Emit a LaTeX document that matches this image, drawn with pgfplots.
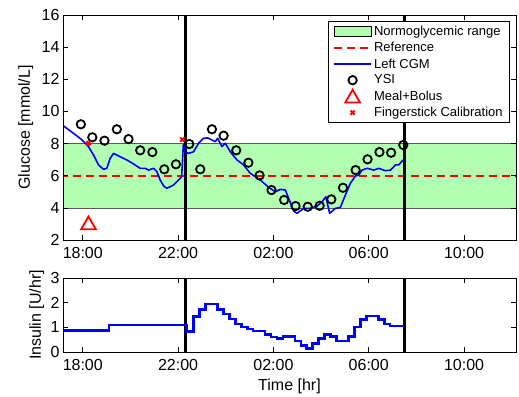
\documentclass[border=0pt]{standalone}
\usepackage{pgfplots}
\pgfplotsset{compat=1.18}
\usepackage{fontspec}
\setmainfont{Liberation Sans}
\definecolor{rangegreen}{rgb}{0.7,1,0.7}
\pgfplotsset{
  lineleg/.style={legend image code/.code={\draw[##1] (0pt,0pt) -- (37pt,0pt);}},
  markleg/.style={legend image code/.code={\draw[mark repeat=2,mark phase=2,##1] plot coordinates {(0pt,0pt) (18.5pt,0pt) (37pt,0pt)};}},
  triled/.style={legend image code/.code={\draw[mark repeat=2,mark phase=2,##1] plot coordinates {(0pt,-2pt) (18.5pt,-2pt) (37pt,-2pt)};}},
  areleg/.style={legend image code/.code={\draw[fill=rangegreen, draw=black, line width=0.6pt] (0pt,-5pt) rectangle (37pt,5pt);}},
}

\begin{document}
\begin{tikzpicture}[font=\fontsize{16}{19}\selectfont]
\path[use as bounding box] (0,0) rectangle (519pt,-396pt);
\pgfplotsset{
  common/.style={
    scale only axis, width=453pt,
    xmin=17.17, xmax=36.18,
    xtick={18,22,26,30,34},
    xticklabels={18:00,22:00,02:00,06:00,10:00},
    tick align=inside, major tick length=5pt,
    axis line style={line width=0.8pt},
    tick style={black, line width=0.6pt},
    /pgf/number format/assume math mode=true,
    tick label style={font=\fontsize{16}{19}\selectfont},
    xticklabel style={yshift=-4pt},
    label style={font=\fontsize{16}{19}\selectfont},
    axis on top,
  }
}
\begin{axis}[common,
  at={(63pt,-15pt)}, anchor=north west, height=225pt,
  ymin=2, ymax=16, ytick={2,4,...,16},
  ylabel={Glucose [mmol/L]},
  every axis y label/.style={at={(axis description cs:-0.082,0.5)}, rotate=90, anchor=center},
  legend style={at={(0.987,0.973)}, anchor=north east,
    font=\fontsize{13}{15}\selectfont, draw=black, line width=0.8pt,
    row sep=1.4pt, inner xsep=5pt, inner ysep=2.5pt},
  legend cell align=left,
]
\addplot[fill=rangegreen, draw=black!65, line width=0.6pt, areleg]
  coordinates {(16.5,4) (37,4) (37,8) (16.5,8) (16.5,4)};
\addlegendentry{Normoglycemic range}
\addplot[red, line width=2pt, dash pattern=on 8pt off 5pt, lineleg]
  coordinates {(16.5,6) (37,6)};
\addlegendentry{Reference}
\addplot[black, line width=3pt, forget plot] coordinates {(22.30,2) (22.30,16)};
\addplot[black, line width=3pt, forget plot] coordinates {(31.50,2) (31.50,16)};
\addplot[blue, line width=1.6pt, line join=round, lineleg]
  coordinates {
(17.17,9.12) (17.61,8.64) (17.95,8.25) (18.24,7.81) (18.45,7.29) (18.66,6.67)
(18.87,6.40) (19.01,6.46) (19.15,7.08) (19.29,7.39) (19.57,7.18) (19.85,6.98)
(20.13,6.73) (20.41,6.46) (20.62,6.46) (20.76,6.35) (20.97,6.46) (21.11,6.25)
(21.25,5.73) (21.40,5.35) (21.53,5.22) (21.81,5.42) (22.09,5.84) (22.15,5.95)
(22.22,7.95) (22.32,7.45) (22.44,7.39) (22.65,7.49) (22.86,8.02) (23.07,8.33)
(23.25,8.35) (23.35,8.27) (23.56,8.12) (23.66,8.33) (23.84,7.81) (23.98,8.02)
(24.19,7.49) (24.47,6.98) (24.75,6.67) (25.03,6.15) (25.45,5.73) (25.80,5.28)
(26.08,5.00) (26.29,5.15) (26.50,5.11) (26.64,4.59) (26.85,3.80) (26.99,3.66)
(27.27,3.97) (27.55,3.97) (27.83,4.11) (28.04,4.38) (28.20,4.69) (28.36,3.66)
(28.60,3.97) (28.81,4.03) (29.02,4.80) (29.23,5.53) (29.44,5.98) (29.58,6.04)
(29.72,6.35) (29.93,6.46) (30.21,6.35) (30.42,6.46) (30.70,6.31) (30.91,6.35)
(31.12,6.67) (31.26,6.67) (31.44,6.98)
};
\addlegendentry{Left CGM}
\addplot[only marks, mark=o, mark size=4.2pt, black, line width=1.8pt, markleg]
  coordinates {
(17.92,9.20) (18.40,8.39) (18.91,8.18) (19.43,8.89) (19.92,8.28) (20.41,7.58)
(20.92,7.47) (21.42,6.40) (21.91,6.71) (22.47,7.97) (22.93,6.40) (23.42,8.89)
(23.91,8.49) (24.44,7.58) (24.95,6.81) (25.42,6.02) (25.92,5.11) (26.45,4.49)
(26.93,4.11) (27.44,4.07) (27.94,4.13) (28.43,4.53) (28.92,5.25) (29.45,6.35)
(29.95,7.02) (30.45,7.47) (30.94,7.43) (31.45,7.91)
};
\addlegendentry{YSI}
\addplot[only marks, mark=triangle, mark size=8.5pt, red, line width=1.8pt, triled]
  coordinates {(18.24,2.93)};
\addlegendentry{Meal+Bolus}
\addplot[only marks, mark=x, mark size=3pt, red, line width=2pt, markleg]
  coordinates {(18.24,8.02) (22.18,8.25)};
\addlegendentry{Fingerstick Calibration}
\end{axis}

\begin{axis}[common,
  at={(63pt,-278pt)}, anchor=north west, height=74pt,
  ymin=0, ymax=3, ytick={0,1,2,3},
  ylabel={Insulin [U/hr]},
  every axis y label/.style={at={(axis description cs:-0.058,0.5)}, rotate=90, anchor=center},
  xlabel={Time [hr]},
  every axis x label/.style={at={(axis description cs:0.5,-0.523)}, anchor=base},
]
\addplot[black, line width=3pt] coordinates {(22.32,0) (22.32,3)};
\addplot[black, line width=3pt] coordinates {(31.50,0) (31.50,3)};
\addplot[blue, line width=2.6pt, const plot mark left] coordinates {
(17.00,0.87) (19.10,1.10) (22.35,0.82) (22.65,1.43) (22.90,1.73) (23.15,1.94)
(23.65,1.73) (23.90,1.54) (24.15,1.34) (24.40,1.13) (24.65,1.02) (24.90,0.93)
(25.15,0.85) (25.65,0.71) (25.90,0.61) (26.15,0.55) (26.40,0.64) (26.90,0.45)
(27.15,0.27) (27.40,0.14) (27.65,0.34) (27.90,0.55) (28.15,0.72) (28.40,0.64)
(28.65,0.45) (29.15,0.64) (29.40,1.02) (29.65,1.32) (29.90,1.46) (30.40,1.32)
(30.65,1.13) (30.90,1.05) (31.50,1.05)
};
\end{axis}
\end{tikzpicture}
\end{document}
